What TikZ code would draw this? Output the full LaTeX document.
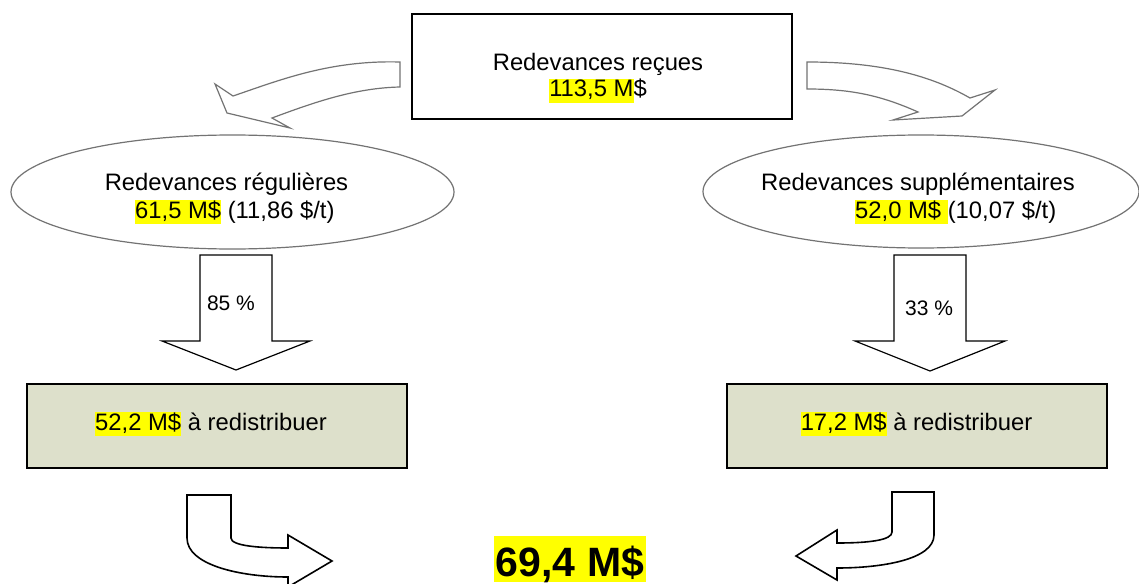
\documentclass[tikz,border=0pt]{standalone}
\usepackage{fontspec}
\setmainfont{Liberation Sans}
\usetikzlibrary{shapes.geometric}
\definecolor{boxgreen}{RGB}{221,224,203}
\definecolor{hlyellow}{RGB}{255,255,0}
\definecolor{linegray}{RGB}{115,115,115}
\newcommand{\hlt}[1]{{\setlength{\fboxsep}{0pt}\colorbox{hlyellow}{\rule[-0.24em]{0pt}{1em}#1}}}
\newcommand{\hlbig}[1]{{\setlength{\fboxsep}{0pt}\colorbox{hlyellow}{\hspace{2pt}\rule[-0.12em]{0pt}{1.1em}#1\hspace{2pt}}}}
\begin{document}
\begin{tikzpicture}[x=1pt,y=-1pt,
  txt/.style={font=\fontsize{23.8}{28}\selectfont, inner sep=0pt},
  pct/.style={font=\fontsize{21}{25}\selectfont, inner sep=0pt},
  bigtxt/.style={font=\bfseries\fontsize{41}{48}\selectfont, inner sep=0pt},
  blackbox/.style={draw=black, line width=1.5pt, inner sep=0pt},
  grayshape/.style={draw=linegray, line width=1.2pt, fill=white},
  blockarrow/.style={draw=black, line width=1.2pt, fill=white, line join=miter},
  bentarrow/.style={draw=black, line width=1.6pt, fill=white, line join=miter}]
\useasboundingbox (0,0) rectangle (1139,583);
\fill[white] (0,0) rectangle (1139,583);

% top box
\node[blackbox, minimum width=380pt, minimum height=105pt] (top) at (602,66.5) {};
\node[txt, anchor=base] (t1) at (598,71) {Redevances reçues};
\node[txt, anchor=base] (t2) at (598,97) {\hlt{113,5 M}\$};

% top curved arrows
\draw[grayshape] (400,62) .. controls (330,60) and (280,80) .. (233,96) -- (215,84) -- (227,113) -- (290,128) -- (272,118) .. controls (315,102) and (355,88) .. (400,87) -- cycle;
\draw[grayshape] (807,62) .. controls (880,62) and (930,75) .. (970,98) -- (995,90) -- (962,116) -- (893,120) -- (918,112) .. controls (880,95) and (850,89) .. (807,89) -- cycle;

% ellipses
\node[ellipse, grayshape, minimum width=443pt, minimum height=114pt, inner sep=0pt] (ell) at (232.5,192) {};
\node[ellipse, grayshape, minimum width=436pt, minimum height=113pt, inner sep=0pt] (elr) at (921,191.5) {};
\node[txt, anchor=base] (l1) at (226.5,190) {Redevances régulières};
\node[txt, anchor=base west] (l2) at (135,218) {\hlt{61,5 M\$} (11,86 \$/t)};
\node[txt, anchor=base] (r1) at (918,190) {Redevances supplémentaires};
\node[txt, anchor=base west] (r2) at (855,218) {\hlt{52,0 M\$ }(10,07 \$/t)};

% down block arrows
\draw[blockarrow] (200,255) -- (272,255) -- (272,341) -- (310,341) -- (236,370) -- (162,341) -- (200,341) -- cycle;
\draw[blockarrow] (894,255) -- (966,255) -- (966,341) -- (1005,341) -- (930,371) -- (855,341) -- (894,341) -- cycle;
\node[pct, anchor=base] (p1) at (231,310) {85 \%};
\node[pct, anchor=base] (p2) at (929,315) {33 \%};

% green boxes
\node[blackbox, fill=boxgreen, minimum width=380pt, minimum height=84pt] (gl) at (217,426) {};
\node[blackbox, fill=boxgreen, minimum width=380pt, minimum height=84pt] (gr) at (917,426) {};
\node[txt, anchor=base] (gtl) at (211,430) {\hlt{52,2 M\$} à redistribuer};
\node[txt, anchor=base] (gtr) at (916.5,430) {\hlt{17,2 M\$} à redistribuer};

% bottom bent arrows
\draw[bentarrow] (187,495) -- (231,495) -- (231,538) .. controls (231,546) and (260,548) .. (288,548) -- (288,535) -- (332,561) -- (288,587) -- (288,577) .. controls (240,577) and (187,565) .. (187,538) -- cycle;
\draw[bentarrow] (892,492) -- (934,492) -- (934,535) .. controls (934,560) and (880,568) .. (837,568) -- (837,580) -- (796,556) -- (837,530) -- (837,543) .. controls (870,543) and (892,540) .. (892,532) -- cycle;

% total
\node[bigtxt, anchor=base] (tot) at (570,576) {\hlbig{69,4 M\$}};
\end{tikzpicture}
\end{document}
